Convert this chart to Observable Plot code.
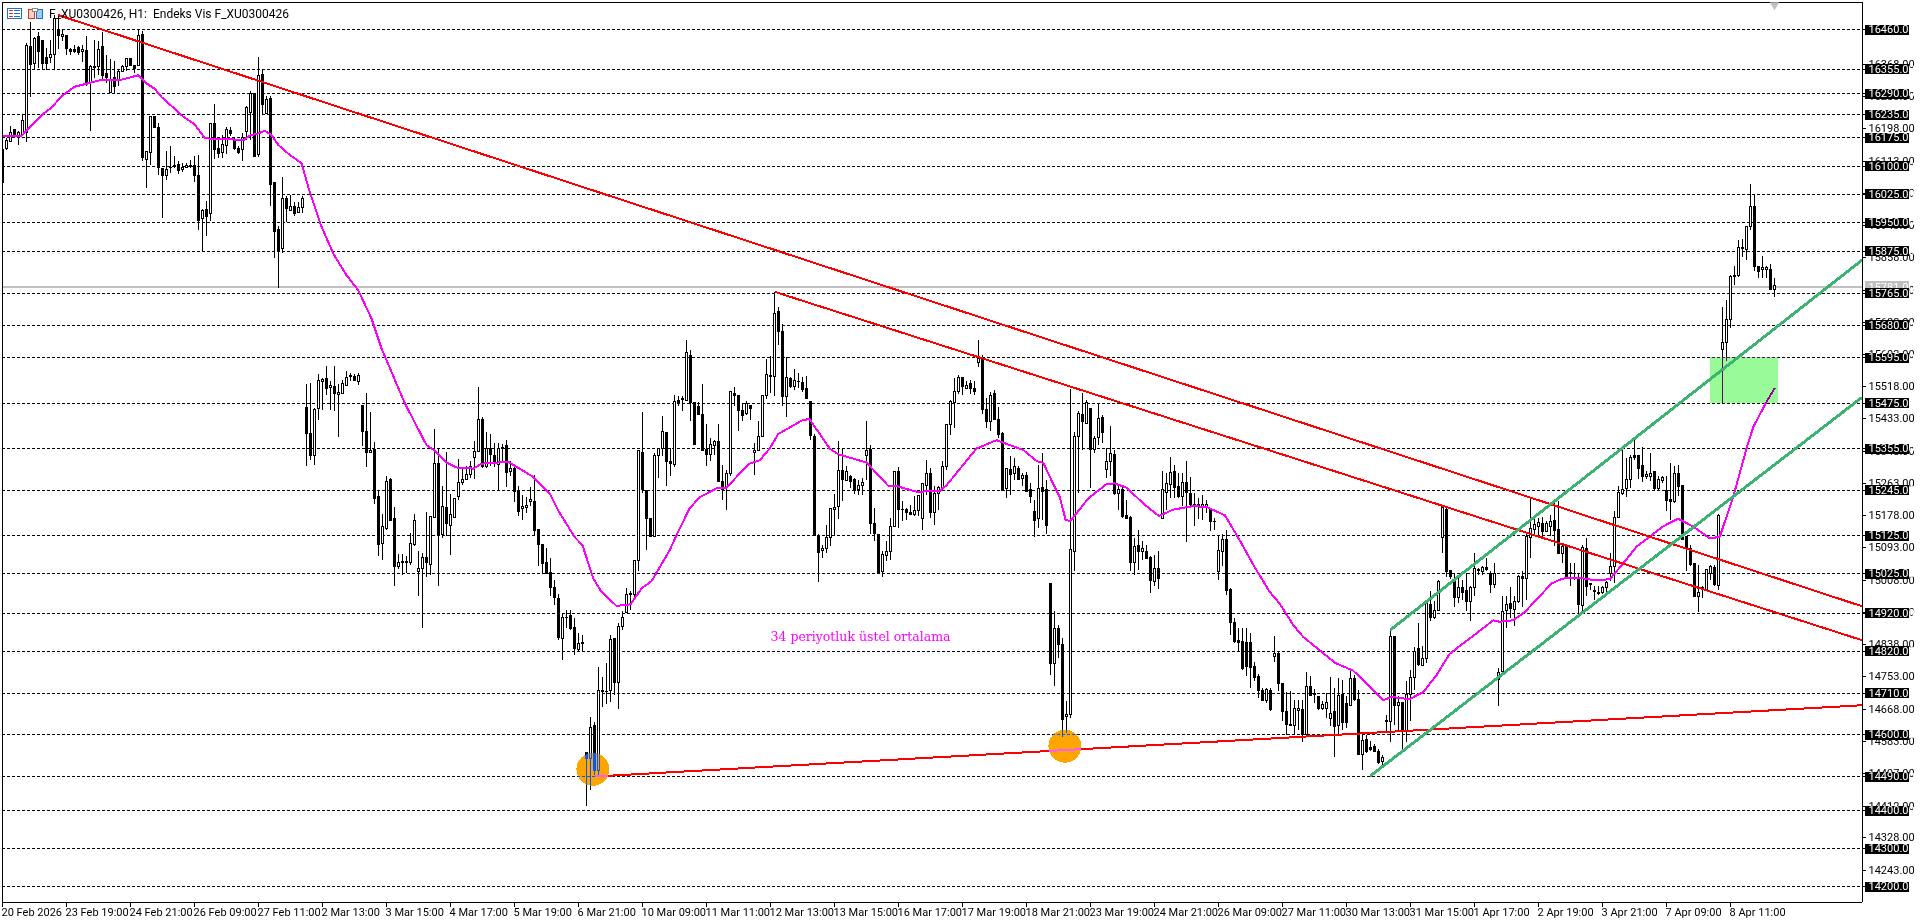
<!DOCTYPE html>
<html><head><meta charset="utf-8">
<script src="https://cdn.jsdelivr.net/npm/d3@7"></script>
<script src="https://cdn.jsdelivr.net/npm/@observablehq/plot@0.6"></script>
<style>html,body{margin:0;padding:0;background:#fff;overflow:hidden}#c{position:relative;width:1920px;height:923px}#ic{position:absolute;left:0;top:0}</style>
</head><body><div id="c"></div>
<script>
const opens=[16142,16145,16164,16196,16175,16181,16186,16414,16369,16441,
16430,16386,16384,16394,16460,16439,16442,16407,16407,16410,
16401,16403,16318,16362,16360,16413,16342,16293,16333,16324,
16348,16362,16381,16363,16364,16445,16117,16133,16228,16199,
16092,16074,16095,16100,16102,16089,16095,16101,16101,16073,
15959,15985,15973,16212,16144,16133,16153,16192,16168,16146,
16142,16190,16240,16291,16129,16340,16237,16276,16054,15931,
15880,16014,15982,15991,15975,15988,15463,15392,15336,15458,
15531,15538,15515,15518,15495,15500,15521,15546,15544,15531,
15467,15399,15343,15351,15226,15104,15144,15273,15170,15043,
15052,15056,15052,15100,15030,15036,15065,15047,15173,15315,
15126,15199,15151,15173,15228,15263,15271,15286,15331,15346,
15430,15307,15355,15336,15311,15355,15361,15293,15302,15241,
15195,15199,15214,15213,15140,15100,15052,15028,14988,14959,
14854,14908,14913,14883,14823,14842,14551,14535,14623,14505,
14716,14714,14716,14852,14737,14885,14920,14971,14968,15059,
15342,15243,15168,15122,15336,15355,15397,15320,15311,15481,
15484,15481,15599,15476,15465,15443,15351,15339,15362,15371,
15267,15250,15289,15500,15493,15454,15445,15467,15342,15349,
15386,15494,15547,15544,15714,15661,15491,15538,15516,15531,
15529,15511,15478,15386,15124,15085,15089,15118,15192,15201,
15296,15270,15280,15273,15245,15257,15336,15351,15155,15128,
15030,15072,15083,15148,15292,15194,15194,15186,15181,15191,
15170,15256,15289,15184,15236,15250,15305,15417,15476,15504,
15540,15513,15525,15513,15581,15592,15456,15424,15498,15430,
15393,15247,15298,15287,15302,15274,15283,15245,15188,15169,
15250,15245,14999,14786,14878,14836,14646,14652,15081,15386,
15443,15419,15460,15352,15384,15436,15298,15320,15337,15234,
15245,15177,15173,15052,15097,15083,15081,15065,15003,15036,
15170,15239,15258,15293,15254,15228,15264,15235,15206,15201,
15197,15201,15194,15162,15030,15083,15113,14983,14895,14848,
14845,14843,14841,14778,14753,14716,14690,14716,14804,14814,
14735,14659,14627,14624,14663,14665,14599,14725,14707,14700,
14668,14667,14643,14661,14623,14705,14681,14676,14747,14693,
14546,14586,14564,14567,14555,14528,14634,14634,14857,14676,
14683,14611,14705,14749,14825,14782,14801,14942,14907,14927,
15120,15194,15032,15008,14962,14988,14980,14949,14988,15032,
15030,15039,15025,14995,14744,14766,14927,14946,14930,14951,
15017,15010,15118,15140,15148,15157,15135,15148,15163,15140,
15078,15096,15028,15025,15014,14940,15091,14997,14977,14975,
14973,14988,15025,15043,15173,15236,15247,15273,15335,15335,
15309,15281,15280,15292,15247,15270,15243,15219,15214,15289,
15256,15122,15091,15050,14964,14981,14981,15025,15039,14992,
15616,15634,15693,15806,15810,15885,15878,15938,15991,15834,
15827,15827,15827,15774];
const highs=[16142,16173,16203,16196,16190,16237,16423,16478,16439,16451,
16430,16410,16432,16498,16498,16460,16442,16410,16419,16414,
16419,16441,16366,16430,16428,16451,16392,16381,16375,16353,
16366,16381,16381,16366,16460,16454,16137,16228,16230,16212,
16094,16137,16151,16124,16111,16107,16107,16115,16124,16129,
15985,16006,16212,16263,16173,16181,16202,16202,16175,16151,
16186,16256,16296,16291,16386,16355,16282,16282,16054,15940,
16070,16019,16023,16004,16004,16019,15525,15526,15460,15551,
15540,15572,15533,15572,15525,15535,15558,15553,15551,15553,
15467,15500,15450,15370,15243,15182,15280,15276,15199,15076,
15076,15069,15131,15182,15083,15078,15186,15175,15405,15355,
15254,15344,15235,15223,15327,15302,15307,15320,15373,15516,
15437,15396,15393,15368,15368,15366,15377,15320,15305,15254,
15232,15226,15252,15285,15140,15100,15091,15065,15008,14971,
14920,14929,14927,14907,14867,14863,14551,14646,14632,14777,
14751,14788,14863,14852,14893,14924,14986,14979,15061,15351,
15450,15245,15168,15342,15355,15440,15397,15355,15496,15493,
15491,15639,15614,15476,15476,15525,15418,15381,15377,15418,
15311,15298,15503,15516,15496,15475,15478,15469,15368,15427,
15496,15590,15598,15766,15727,15682,15595,15542,15563,15553,
15542,15546,15480,15393,15129,15100,15153,15197,15234,15374,
15355,15308,15285,15276,15270,15276,15427,15364,15197,15128,
15083,15109,15170,15292,15305,15214,15198,15206,15228,15232,
15263,15323,15302,15254,15256,15320,15417,15481,15540,15548,
15542,15531,15535,15531,15641,15601,15487,15504,15507,15463,
15396,15302,15333,15329,15308,15289,15291,15263,15219,15311,
15342,15271,14999,14926,14889,14854,14689,15511,15396,15452,
15500,15481,15460,15386,15474,15443,15355,15412,15351,15254,
15256,15219,15175,15118,15138,15109,15100,15069,15074,15083,
15294,15289,15331,15311,15289,15289,15320,15279,15236,15223,
15232,15219,15197,15170,15126,15128,15138,14986,14907,14880,
14880,14880,14867,14792,14760,14722,14722,14722,14858,14821,
14735,14711,14713,14691,14691,14690,14764,14753,14720,14700,
14687,14709,14751,14722,14749,14744,14700,14770,14757,14718,
14602,14599,14582,14575,14560,14546,14652,14876,14858,14700,
14685,14740,14770,14830,14894,14832,14955,14977,14951,15008,
15199,15201,15034,15025,15017,15008,15025,14990,15078,15039,
15045,15065,15030,15052,14775,14964,14964,14988,14964,15021,
15030,15129,15226,15173,15170,15173,15162,15179,15216,15214,
15102,15100,15052,15052,15025,15100,15118,14999,14990,14990,
14992,15003,15078,15188,15254,15351,15329,15337,15377,15337,
15359,15294,15342,15294,15282,15280,15280,15315,15307,15311,
15258,15124,15100,15052,15047,14992,15036,15047,15047,15182,
15727,15746,15810,15834,15903,15906,15940,16052,16026,15836,
15861,15836,15839,15803];
const lows=[16054,16142,16161,16177,16153,16177,16161,16280,16351,16357,
16351,16351,16370,16351,16406,16428,16392,16392,16397,16392,
16372,16311,16190,16331,16340,16326,16318,16291,16291,16311,
16348,16348,16362,16344,16364,16111,16041,16102,16199,16076,
15962,16063,16080,16094,16078,16082,16094,16094,16057,15929,
15872,15913,15953,16117,16120,16120,16131,16177,16142,16131,
16111,16168,16168,16123,16123,16237,16237,15992,15856,15777,
15869,15950,15982,15968,15975,15975,15307,15324,15309,15428,
15456,15496,15456,15452,15383,15498,15521,15531,15532,15522,
15361,15304,15343,15208,15071,15059,15138,15164,14990,15036,
15021,15025,15047,15096,14966,14880,15014,15021,15173,14990,
15118,15122,15074,15170,15219,15258,15270,15276,15274,15346,
15302,15302,15307,15305,15241,15315,15252,15280,15212,15175,
15164,15184,15201,15126,15043,15024,15024,14964,14942,14848,
14797,14880,14876,14810,14819,14821,14410,14452,14494,14489,
14671,14681,14684,14704,14666,14874,14920,14929,14955,15030,
15236,15085,15122,15120,15276,15333,15254,15280,15305,15465,
15452,15481,15425,15362,15443,15349,15307,15322,15337,15267,
15217,15191,15280,15465,15399,15425,15441,15430,15285,15349,
15384,15484,15500,15491,15626,15465,15438,15513,15509,15513,
15504,15483,15375,15122,15001,15065,15078,15096,15122,15168,
15214,15267,15250,15235,15232,15232,15271,15129,15109,15027,
15014,15056,15059,15147,15144,15162,15166,15179,15177,15175,
15140,15232,15170,15151,15192,15245,15296,15390,15408,15498,
15496,15513,15498,15496,15569,15445,15408,15399,15428,15381,
15243,15223,15232,15271,15271,15256,15238,15210,15120,15144,
15166,15129,14757,14728,14801,14592,14603,14643,15030,15236,
15351,15419,15250,15342,15364,15368,15276,15280,15232,15192,
15170,15170,15032,15021,15034,15061,15062,14973,14990,14983,
15170,15192,15223,15223,15223,15203,15106,15201,15150,15168,
15166,15184,15135,15140,15008,15043,14968,14863,14841,14819,
14770,14753,14722,14740,14696,14687,14683,14661,14792,14713,
14634,14599,14621,14599,14612,14579,14596,14700,14683,14665,
14663,14643,14621,14539,14595,14612,14617,14674,14687,14546,
14507,14552,14557,14553,14523,14511,14608,14579,14625,14612,
14561,14579,14634,14718,14779,14779,14788,14898,14905,14927,
15078,15015,15010,14935,14946,14955,14924,14898,14964,15021,
15021,15030,14973,14986,14674,14757,14880,14907,14885,14946,
14937,14955,15065,15122,15122,15118,15133,15122,15096,15078,
15052,15017,14992,15008,14920,14924,14964,14981,14955,14968,
14971,14971,15003,14999,15170,15232,15226,15250,15324,15272,
15265,15272,15267,15241,15241,15263,15188,15166,15210,15228,
15115,15030,15043,14962,14922,14960,14977,15008,14992,14980,
15471,15584,15671,15786,15806,15859,15850,15929,15821,15803,
15803,15803,15773,15753];
const closes=[16054,16166,16186,16180,16186,16219,16416,16366,16436,16401,
16370,16370,16394,16489,16443,16445,16408,16401,16401,16397,
16406,16318,16362,16359,16407,16337,16331,16328,16309,16348,
16362,16381,16364,16357,16443,16120,16137,16228,16199,16094,
16074,16089,16094,16098,16087,16095,16100,16098,16074,15956,
15981,15966,16212,16142,16131,16155,16195,16184,16146,16135,
16173,16252,16289,16124,16338,16261,16275,16051,15927,15874,
16014,15986,15991,15973,15988,16014,15392,15336,15456,15533,
15535,15513,15520,15500,15502,15524,15542,15544,15532,15547,
15399,15343,15349,15223,15100,15147,15267,15164,15043,15052,
15056,15052,15102,15164,15036,15065,15052,15175,15315,15124,
15201,15157,15181,15221,15265,15271,15285,15307,15346,15430,
15307,15355,15337,15314,15355,15357,15291,15302,15241,15188,
15201,15203,15219,15138,15100,15050,15025,14987,14961,14856,
14909,14907,14880,14825,14839,14839,14536,14618,14505,14716,
14712,14712,14851,14737,14885,14909,14968,14968,15059,15349,
15245,15168,15122,15336,15355,15399,15320,15314,15478,15472,
15486,15606,15474,15365,15443,15349,15337,15364,15371,15267,
15245,15289,15503,15494,15454,15441,15472,15460,15349,15386,
15493,15550,15544,15711,15661,15491,15540,15516,15533,15530,
15509,15485,15388,15124,15080,15091,15118,15195,15199,15296,
15271,15293,15267,15243,15257,15265,15349,15155,15129,15028,
15074,15083,15148,15292,15194,15192,15184,15180,15191,15229,
15261,15289,15184,15236,15250,15305,15417,15478,15504,15542,
15516,15520,15513,15504,15592,15456,15425,15494,15430,15390,
15243,15300,15285,15305,15271,15282,15241,15226,15164,15247,
15241,15151,14786,14880,14836,14639,14653,15087,15386,15445,
15425,15476,15352,15379,15434,15396,15320,15340,15234,15245,
15175,15170,15052,15094,15083,15091,15063,15006,15036,15012,
15245,15261,15291,15252,15226,15263,15239,15206,15201,15206,
15206,15206,15160,15160,15084,15113,14980,14894,14845,14843,
14773,14778,14775,14751,14716,14690,14718,14665,14814,14735,
14661,14625,14624,14667,14667,14599,14725,14703,14704,14668,
14678,14683,14654,14621,14702,14630,14632,14746,14691,14546,
14583,14555,14560,14555,14527,14540,14636,14857,14676,14683,
14612,14705,14749,14819,14784,14801,14945,14907,14927,15003,
15197,15030,15015,14962,14986,14975,14949,14988,15036,15034,
15039,15034,14995,15024,14763,14924,14942,14933,14951,15015,
15010,15122,15144,15152,15159,15134,15155,15162,15138,15078,
15094,15017,15023,15023,14942,15093,14990,14994,14980,14971,
14988,15001,15043,15173,15238,15245,15272,15331,15331,15302,
15280,15285,15287,15247,15272,15276,15217,15214,15289,15254,
15115,15091,15047,14964,14974,14986,15034,15043,14995,15177,
15632,15694,15808,15810,15885,15880,15938,15991,15834,15821,
15830,15832,15774,15783];

const maBars=[0,4.75,7.7,9.75,12.25,14.75,18,21.4,24.3,29,33.9,36,38,39.75,42.7,45.2,48,50.6,57.7,60.2,61.8,64,65.6,67.25,69,71.4,74.75,76.8,79.75,82.7,86,88.9,92.25,94.75,97.25,100.6,103,106,107.7,111,113.5,117.7,119.75,126.4,132.7,136.8,138.9,143,145,147.7,149.75,153.5,157,159.75,162.25,166.8,168.5,171.75,174.25,178.5,181,184.3,186.8,189.3,191.8,193.9,200.2,201.8,206.8,208.9,216,221.4,223.5,228.5,234.3,236,243.5,248.5,255.2,258.5,260.2,262.25,264.3,265.8,267,271.4,276,278,281,285.2,289.1,292.7,297.7,301,305.6,309.3,313,316.8,319.3,322.7,325.2,329.3,333.1,337.7,345.2,347.25,351.8,355.2,358.5,361.8,366.8,372.7,374.3,377.7,380.6,387.25,390,394.3,397.7,401.8,405,408.5,415.2,418.9,422.7,426.8,429.3,432.7,436,437.7,441,443];
const maValues=[16179,16179,16212,16234,16254,16284,16309,16318,16326,16326,16339,16318,16304,16282,16254,16230,16210,16173,16170,16168,16180,16186,16193,16181,16155,16133,16107,16032,15940,15869,15812,15773,15698,15619,15557,15474,15425,15364,15352,15318,15305,15302,15315,15320,15280,15236,15192,15122,15100,15012,14977,14940,14944,14986,15005,15087,15126,15197,15226,15250,15252,15289,15315,15324,15355,15393,15431,15432,15355,15340,15318,15257,15256,15241,15243,15258,15355,15377,15351,15322,15317,15271,15228,15166,15164,15223,15261,15263,15252,15210,15177,15194,15203,15201,15179,15113,15043,14977,14946,14889,14858,14823,14790,14769,14691,14700,14694,14713,14757,14814,14854,14902,14898,14902,14924,14999,15012,15014,15008,15010,15050,15096,15150,15170,15149,15118,15122,15228,15355,15412,15478,15513];

const redLines=[[13.9,16498,464.9,14939],[193.1,15768,464.9,14849.5],[148.1,14490,464.9,14678]];
const greenLines=[[346.9,14876,464.9,15852],[341.9,14491,464.9,15490]];
const circles=[[147.6,14509],[265.6,14570]];
const zone=[427,443.9,15595,15473];
const levels=[16460,16355,16290,16235,16175,16100,16025,15950,15875,15765,15680,15595,15475,15355,15245,15125,15025,14920,14820,14710,14600,14490,14400,14300,14200];
const scaleTicks=[14243,14328,14412,14497,14583,14668,14753,14838,14923,15008,15093,15178,15263,15348,15433,15518,15603,15688,15773,15858,15943,16028,16113,16198,16283,16368];
const currentPrice=15781;
const dateLabels=["20 Feb 2026","23 Feb 19:00","24 Feb 21:00","26 Feb 09:00","27 Feb 11:00","2 Mar 13:00","3 Mar 15:00","4 Mar 17:00","5 Mar 19:00","6 Mar 21:00","10 Mar 09:00","11 Mar 11:00","12 Mar 13:00","13 Mar 15:00","16 Mar 17:00","17 Mar 19:00","18 Mar 21:00","23 Mar 19:00","24 Mar 21:00","26 Mar 09:00","27 Mar 11:00","30 Mar 13:00","31 Mar 15:00","1 Apr 17:00","2 Apr 19:00","3 Apr 21:00","7 Apr 09:00","8 Apr 11:00"];
const headerText="F_XU0300426, H1:  Endeks Vis F_XU0300426";
const noteText="34 periyotluk üstel ortalama";

const bars=opens.map((o,i)=>({i,o,h:highs[i],l:lows[i],c:closes[i]}));
const ma=maBars.map((b,k)=>({b,v:maValues[k]}));
const crisp={shapeRendering:"crispEdges"};
const lastX=465, yTop=16531.2, yBot=14157.8, labL=465.75, labR=476.75, txtX=466.5;
const font="'Liberation Sans Narrow','Roboto',sans-serif";
const segs=(arr)=>Plot.link(arr,{x1:d=>d[0],y1:d=>d[1],x2:d=>d[2],y2:d=>d[3]});
const link=(arr,o)=>Plot.link(arr,{x1:d=>d[0],y1:d=>d[1],x2:d=>d[2],y2:d=>d[3],markerEnd:null,curve:"linear",...crisp,...o});

const plot=Plot.plot({
  width:1920,height:923,margin:0,
  style:{background:"#fff"},
  x:{type:"linear",domain:[0,480],range:[2,1922],axis:null},
  y:{type:"linear",domain:[16460,14200],range:[29,886],axis:null},
  marks:[
    Plot.frame({fill:"#fff",stroke:"none"}),
    Plot.ruleY([currentPrice],{x1:0,x2:lastX,stroke:"#c0c0c0",strokeWidth:2,...crisp}),
    Plot.ruleY(levels,{x1:0,x2:lastX,stroke:"#000",strokeWidth:1,strokeDasharray:"3,2",...crisp}),
    Plot.ruleX(bars,{x:"i",y1:"l",y2:"h",stroke:"#000",strokeWidth:1,...crisp}),
    Plot.rect(bars,{x1:d=>Math.max(0,d.i-0.25),x2:d=>d.i+0.25,y1:"o",y2:"c",fill:d=>d.c>=d.o?"#fff":"#000",stroke:"#000",strokeWidth:1,...crisp}),
    Plot.line(ma,{x:"b",y:"v",stroke:"#ff00ff",strokeWidth:2,curve:"linear",...crisp}),
    link(redLines,{stroke:"#ff0000",strokeWidth:2}),
    Plot.dot(circles,{x:d=>d[0],y:d=>d[1],r:16.5,fill:"rgb(0,90,255)",stroke:"none",mixBlendMode:"difference",...crisp}),
    Plot.rect([zone],{x1:d=>d[0],x2:d=>d[1],y1:d=>d[2],y2:d=>d[3],fill:"rgb(103,4,103)",mixBlendMode:"difference",...crisp}),
    link(greenLines,{stroke:"#3cb371",strokeWidth:3}),
    // chart frame
    Plot.ruleX([0,lastX],{y1:yTop,y2:yBot,stroke:"#000",...crisp}),
    Plot.ruleY([yTop,yBot],{x1:0,x2:lastX,stroke:"#000",...crisp}),
    // right price scale
    Plot.ruleY(scaleTicks,{x1:lastX,x2:lastX+1,stroke:"#000",...crisp}),
    Plot.text(scaleTicks,{x:txtX,y:d=>d,text:d=>d.toFixed(2),textAnchor:"start",fontFamily:font,fontSize:11,fill:"#000"}),
    Plot.ruleY(levels,{x1:lastX,x2:labL,stroke:"#000",...crisp}),
    Plot.ruleY([currentPrice],{x1:labL,x2:labR,stroke:"#c0c0c0",strokeWidth:11,...crisp}),
    Plot.text([currentPrice],{x:txtX,y:d=>d,text:d=>d.toFixed(2),textAnchor:"start",fontFamily:font,fontSize:11,fill:"#fff"}),
    Plot.ruleY(levels,{x1:labL,x2:labR,stroke:"#000",strokeWidth:10,...crisp}),
    Plot.text(levels,{x:txtX,y:d=>d,text:d=>d.toFixed(2),textAnchor:"start",fontFamily:font,fontSize:11,fill:"#fff"}),
    // bottom time scale
    Plot.ruleX(dateLabels,{x:(d,k)=>k*16,y1:yBot,y2:14145,stroke:"#000",...crisp}),
    Plot.text(dateLabels,{x:(d,k)=>k*16,y:14132,text:d=>d,textAnchor:"start",dx:-1,fontFamily:font,fontSize:11,fill:"#000"}),
    // annotations
    Plot.text([noteText],{x:192,y:14859,text:d=>d,textAnchor:"start",fontFamily:"'DejaVu Serif',serif",fontSize:12.5,fill:"#ff00ff"}),
    Plot.text([headerText],{x:11.6,y:16501,text:d=>d,textAnchor:"start",fontFamily:font,fontSize:12,fill:"#000"}),
    Plot.dot([443],{x:d=>d,y:16525,symbol:"triangle",rotate:180,r:3.5,fill:"#c0c0c0",stroke:"none"})
  ]
});
const host=document.getElementById("c");
host.appendChild(plot);
host.insertAdjacentHTML("beforeend",`<svg id="ic" width="50" height="24" shape-rendering="crispEdges">
<rect x="7.5" y="8.5" width="14" height="10" fill="#fff" stroke="#1f6fd0"/>
<path d="M9 10.5h4M9 13.5h4M9 16.5h4" stroke="#e03020" fill="none"/><path d="M14 10.5h6M14 13.5h6M14 16.5h6" stroke="#1f6fd0" fill="none"/>
<rect x="28.5" y="9.5" width="6" height="9" fill="#fbd5c8" stroke="#e03020"/><rect x="36.5" y="9.5" width="6" height="9" fill="#9ccfee" stroke="#1f6fd0"/>
<rect x="32.5" y="8.5" width="5" height="3" fill="#fff" stroke="#888"/></svg>`);
</script></body></html>
